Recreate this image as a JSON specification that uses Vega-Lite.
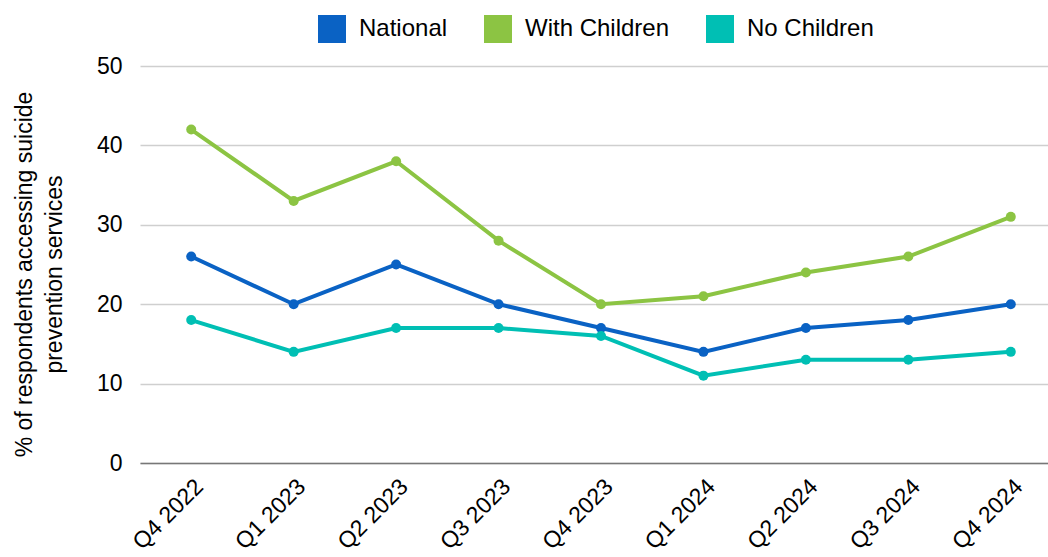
{
  "$schema": "https://vega.github.io/schema/vega-lite/v6.json",
  "autosize": "none",
  "width": 922,
  "height": 397,
  "padding": {"left": 140, "top": 66, "right": 0, "bottom": 94},
  "background": "white",
  "config": {
    "font": "Liberation Sans",
    "view": {"stroke": null}
  },
  "data": {
    "values": [
      {"q": "Q4 2022", "s": "National", "v": 26},
      {"q": "Q1 2023", "s": "National", "v": 20},
      {"q": "Q2 2023", "s": "National", "v": 25},
      {"q": "Q3 2023", "s": "National", "v": 20},
      {"q": "Q4 2023", "s": "National", "v": 17},
      {"q": "Q1 2024", "s": "National", "v": 14},
      {"q": "Q2 2024", "s": "National", "v": 17},
      {"q": "Q3 2024", "s": "National", "v": 18},
      {"q": "Q4 2024", "s": "National", "v": 20},
      {"q": "Q4 2022", "s": "With Children", "v": 42},
      {"q": "Q1 2023", "s": "With Children", "v": 33},
      {"q": "Q2 2023", "s": "With Children", "v": 38},
      {"q": "Q3 2023", "s": "With Children", "v": 28},
      {"q": "Q4 2023", "s": "With Children", "v": 20},
      {"q": "Q1 2024", "s": "With Children", "v": 21},
      {"q": "Q2 2024", "s": "With Children", "v": 24},
      {"q": "Q3 2024", "s": "With Children", "v": 26},
      {"q": "Q4 2024", "s": "With Children", "v": 31},
      {"q": "Q4 2022", "s": "No Children", "v": 18},
      {"q": "Q1 2023", "s": "No Children", "v": 14},
      {"q": "Q2 2023", "s": "No Children", "v": 17},
      {"q": "Q3 2023", "s": "No Children", "v": 17},
      {"q": "Q4 2023", "s": "No Children", "v": 16},
      {"q": "Q1 2024", "s": "No Children", "v": 11},
      {"q": "Q2 2024", "s": "No Children", "v": 13},
      {"q": "Q3 2024", "s": "No Children", "v": 13},
      {"q": "Q4 2024", "s": "No Children", "v": 14}
    ]
  },
  "mark": {"type": "line", "strokeWidth": 4, "point": {"size": 100, "filled": true, "opacity": 1}},
  "encoding": {
    "x": {
      "field": "q", "type": "ordinal", "sort": null,
      "scale": {"type": "point", "padding": 0.5},
      "axis": {
        "title": null, "labelAngle": -45, "labelAlign": "right", "labelBaseline": "top",
        "labelFontSize": 23, "labelColor": "#000", "ticks": false, "domain": true,
        "domainColor": "#777", "domainWidth": 1.5, "labelPadding": 12, "grid": false
      }
    },
    "y": {
      "field": "v", "type": "quantitative",
      "scale": {"domain": [0, 50], "nice": false},
      "axis": {
        "values": [0, 10, 20, 30, 40, 50],
        "title": ["% of respondents accessing suicide", "prevention services"],
        "titleFontSize": 23, "titleFontWeight": "normal", "titleColor": "#000",
        "titleLineHeight": 30, "titleAngle": -90, "titleAlign": "center", "titleBaseline": "middle",
        "titleX": -116, "titleY": 208,
        "labelFontSize": 23, "labelColor": "#000", "labelPadding": 18,
        "ticks": false, "domain": false, "gridColor": "#cfcfcf", "gridWidth": 1.5
      }
    },
    "color": {
      "field": "s", "type": "nominal",
      "scale": {"domain": ["National", "With Children", "No Children"], "range": ["#0A62C4", "#8CC443", "#00BFB4"]},
      "legend": {
        "title": null, "orient": "none", "direction": "horizontal",
        "legendX": 178, "legendY": -51,
        "symbolType": "square", "symbolSize": 784, "symbolStrokeWidth": 0,
        "labelFontSize": 24, "labelColor": "#000", "columnPadding": 36, "labelOffset": 13
      }
    }
  }
}
